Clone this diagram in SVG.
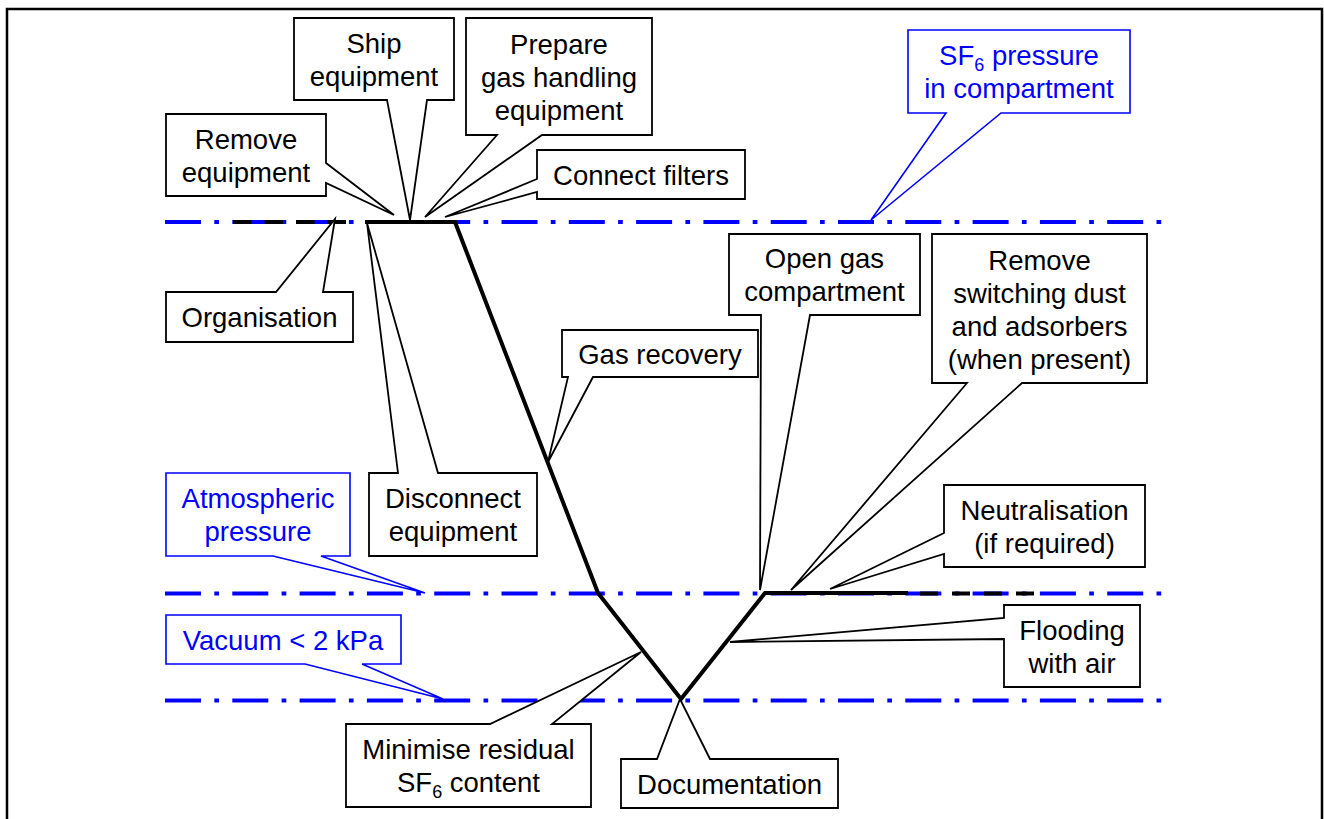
<svg xmlns="http://www.w3.org/2000/svg" width="1324" height="819" viewBox="0 0 1324 819">
<style>
text{font-family:"Liberation Sans",Arial,sans-serif;font-size:27.5px;text-anchor:middle;fill:#000}
.blue text,text.b{fill:#0000ff}
.box{fill:#fff;stroke:#000;stroke-width:1.8;stroke-linejoin:miter}
.bbox{fill:#fff;stroke:#0000ff;stroke-width:1.6}
.level{stroke:#0000ff;stroke-width:4;stroke-dasharray:36 13.3 4.7 13.3;fill:none}
.proc{stroke:#000;stroke-width:4;fill:none;stroke-linejoin:miter}
.pdash{stroke:#000;stroke-width:4;fill:none}
.sub{font-size:18px}
</style>
<rect x="0" y="0" width="1324" height="819" fill="#fff"/>
<path d="M7,819 V9 H1322 V819" fill="none" stroke="#000" stroke-width="2.5"/>
<g id="levels">
<line class="level" x1="165" y1="222" x2="1163" y2="222"/>
<line class="level" x1="165" y1="593.5" x2="1163" y2="593.5"/>
<line class="level" x1="165" y1="700.5" x2="1163" y2="700.5"/>
</g>
<g id="connectors">
<path class="proc" d="M365,222 H455 L598,593 L681,699 L765,593 H908"/>
<line class="pdash" x1="233" y1="222" x2="346" y2="222" stroke-dasharray="18.5 13"/>
<line class="pdash" x1="920" y1="593.5" x2="1034" y2="593.5" stroke-dasharray="18 14"/>
</g>
<g id="remove-equipment"><path class="box" d="M166,114 H326 V163 L394,215 L326,183 V196 H166 Z"/><text x="246" y="148.5">Remove</text><text x="246" y="181.5">equipment</text></g>
<g id="ship-equipment"><path class="box" d="M294,18 H454 V100 H427 L410,220 L387,100 H294 Z"/><text x="374" y="52.5">Ship</text><text x="374" y="85.5">equipment</text></g>
<g id="prepare"><path class="box" d="M466,18 H652 V135 H542 L425,217 L497,135 H466 Z"/><text x="559" y="53.5">Prepare</text><text x="559" y="86.5">gas handling</text><text x="559" y="119.5">equipment</text></g>
<g id="connect-filters"><path class="box" d="M537,150 H745 V199 H537 V192 L445,217 L537,179 Z"/><text x="641" y="184.5">Connect filters</text></g>
<g id="organisation"><path class="box" d="M166,292 H276 L335,219 L323,292 H353 V342 H166 Z"/><text x="259.5" y="327">Organisation</text></g>
<g id="disconnect"><path class="box" d="M369,473 H398 L367,223 L438,473 H537 V556 H369 Z"/><text x="453" y="508">Disconnect</text><text x="453" y="541">equipment</text></g>
<g id="atmospheric" class="blue"><path class="bbox" d="M166,473 H350 V556 H321 L425,593 L273,556 H166 Z"/><text x="258" y="508">Atmospheric</text><text x="258" y="541">pressure</text></g>
<g id="vacuum" class="blue"><path class="bbox" d="M166,615 H401 V664 H362 L443,699 L305,664 H166 Z"/><text x="283" y="649.5">Vacuum &lt; 2 kPa</text></g>
<g id="gas-recovery"><path class="box" d="M562,330 H758 V377 H593 L548,462 L568,377 H562 Z"/><text x="660" y="363.5">Gas recovery</text></g>
<g id="open-gas"><path class="box" d="M729,234 H920 V315 H810 L760,590 L761,315 H729 Z"/><text x="824.5" y="268">Open gas</text><text x="824.5" y="301">compartment</text></g>
<g id="remove-dust"><path class="box" d="M932,234 H1147 V383 H1022 L791,590 L967,383 H932 Z"/><text x="1039.5" y="270">Remove</text><text x="1039.5" y="303">switching dust</text><text x="1039.5" y="336">and adsorbers</text><text x="1039.5" y="369">(when present)</text></g>
<g id="neutralisation"><path class="box" d="M944,485 H1145 V567 H944 V554 L830,589 L944,533 Z"/><text x="1044.5" y="519.5">Neutralisation</text><text x="1044.5" y="552.5">(if required)</text></g>
<g id="flooding"><path class="box" d="M1004,605 H1140 V687 H1004 V639 L730,642 L1004,618 Z"/><text x="1072" y="639.5">Flooding</text><text x="1072" y="672.5">with air</text></g>
<g id="minimise"><path class="box" d="M346,724 H490 L641,652 L552,724 H591 V807 H346 Z"/><text x="468.5" y="759">Minimise residual</text><text x="468.5" y="792">SF<tspan class="sub" dy="6">6</tspan><tspan dy="-6"> content</tspan></text></g>
<g id="documentation"><path class="box" d="M621,759 H657 L680,699 L710,759 H838 V808 H621 Z"/><text x="729.5" y="793.5">Documentation</text></g>
<g id="sf6-pressure" class="blue"><path class="bbox" d="M908,30 H1130 V113 H1001 L871,220 L946,113 H908 Z"/><text x="1019" y="65">SF<tspan class="sub" dy="6">6</tspan><tspan dy="-6"> pressure</tspan></text><text x="1019" y="98">in compartment</text></g>
</svg>
